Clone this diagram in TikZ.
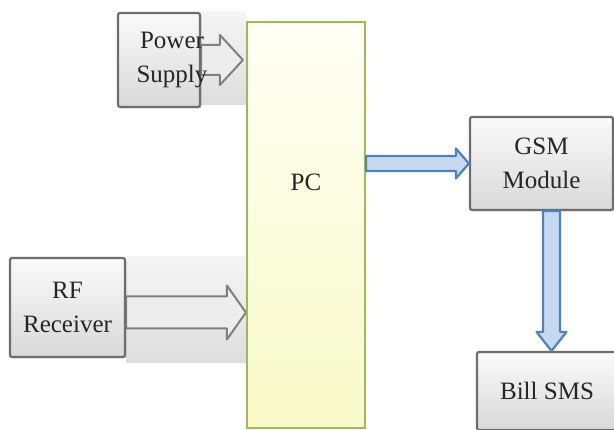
\documentclass[tikz,border=0pt]{standalone}
\usepackage{fontspec}
\setmainfont{Liberation Serif}
\usepackage{xcolor}
\definecolor{boxline}{RGB}{110,110,110}
\definecolor{pcline}{RGB}{155,187,89}
\definecolor{pcfill}{RGB}{248,250,200}
\definecolor{bluearrow}{RGB}{79,129,189}
\definecolor{bluefill}{RGB}{198,217,241}
\definecolor{grayarrow}{RGB}{128,128,128}
\usepackage{tikz}
\usetikzlibrary{
    arrows.meta,
    positioning,
    calc,
    backgrounds,
    shadows
}

\begin{document}
\begin{tikzpicture}[
        x=1pt, y=-1pt,
        block/.style={rectangle, draw=boxline, line width=2.2pt, rounded corners=2pt, top color=gray!4, bottom color=gray!30, align=center, font=\fontsize{25}{34}\selectfont, text=black!85, drop shadow={shadow xshift=1.5pt, shadow yshift=-1.5pt, opacity=.25}},
        pcbox/.style={rectangle, draw=pcline, line width=2.2pt, top color=yellow!4, bottom color=pcfill},
        boxtext/.style={font=\fontsize{25}{34}\selectfont, text=black!85, align=center},
        panel/.style={top color=gray!8, bottom color=gray!26},
        garrow/.style={draw=grayarrow, line width=2pt, fill=gray!14, line join=round},
        barrow/.style={draw=bluearrow, line width=2.2pt, fill=bluefill, line join=round},
        rarrow/.style n args={3}{to path={($(\tikztostart)+(0,#1)$) -- ($(\tikztotarget)+(-#3,#1)$) -- ($(\tikztotarget)+(-#3,#2)$) -- (\tikztotarget) -- ($(\tikztotarget)+(-#3,-#2)$) -- ($(\tikztotarget)+(-#3,-#1)$) -- ($(\tikztostart)+(0,-#1)$) -- cycle}},
        darrow/.style n args={3}{to path={($(\tikztostart)+(#1,0)$) -- ($(\tikztotarget)+(#1,-#3)$) -- ($(\tikztotarget)+(#2,-#3)$) -- (\tikztotarget) -- ($(\tikztotarget)+(-#2,-#3)$) -- ($(\tikztotarget)+(-#1,-#3)$) -- ($(\tikztostart)+(-#1,0)$) -- cycle}}
    ]
        \useasboundingbox (0,0) rectangle (614,430);

        \node[pcbox, minimum width=118pt, minimum height=406pt, label={[yshift=43pt, boxtext]center:PC}] (pc) at (306,225) {};
        \node[block, minimum width=82pt, minimum height=94pt, label={[xshift=13pt, boxtext]center:Power\\Supply}] (power) at (159,60) {};
        \node[block, minimum width=115pt, minimum height=99pt] (rf) at (67.5,307.5) {RF\\Receiver};
        \node[block, minimum width=143pt, minimum height=93pt] (gsm) at (541.5,163.5) {GSM\\Module};
        \node[block, minimum width=140pt, minimum height=78pt] (sms) at (547,391) {Bill SMS};

        \begin{scope}[on background layer]
            \fill[panel] (power.north east) rectangle ($(pc.west |- power.south)+(0,-4)$);
            \fill[panel] (rf.north east) rectangle ($(pc.west |- rf.south)+(0,4)$);
            \draw[garrow, rarrow={15}{25}{23}] (power.east) to ($(pc.west |- power.east)+(-3,0)$);
            \draw[garrow, rarrow={16}{27}{19}] ([yshift=-5pt]rf.east) to ([yshift=-5pt]pc.west |- rf.east);
        \end{scope}

        \draw[barrow, rarrow={7.5}{15}{13}] (pc.east |- gsm.west) to (gsm.west);
        \draw[barrow, darrow={8.5}{15}{19}] ([xshift=10pt]gsm.south) to ([xshift=10pt]gsm.south |- sms.north);
    \end{tikzpicture}
\end{document}
